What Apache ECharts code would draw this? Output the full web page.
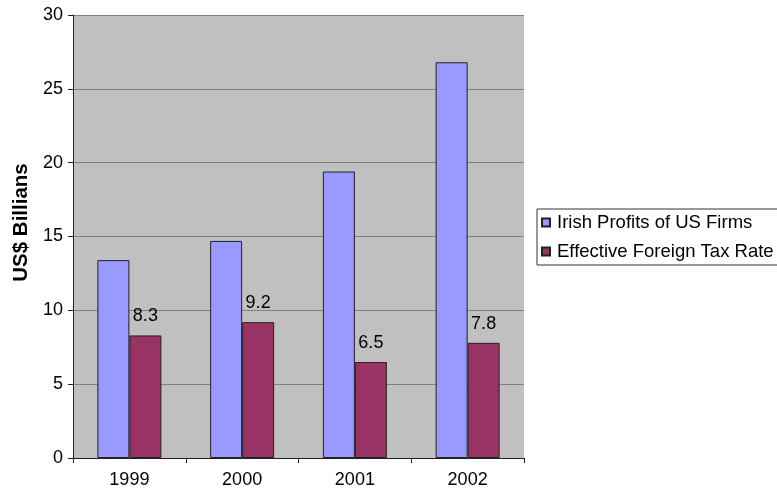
<!DOCTYPE html>
<html>
<head>
<meta charset="utf-8">
<script src="https://cdn.jsdelivr.net/npm/echarts@6/dist/echarts.min.js"></script>
<style>
  html, body { margin: 0; padding: 0; background: #fff; }
  #chart { width: 777px; height: 491px; }
</style>
</head>
<body>
<div id="chart"></div>
<script>
// data
const years = ["1999", "2000", "2001", "2002"];
const irishProfits = [13.4, 14.7, 19.4, 26.8];
const taxRate = [8.3, 9.2, 6.5, 7.8];
const yTicks = { min: 0, max: 30, interval: 5 };

const myChart = echarts.init(document.getElementById("chart"));
const font = "'Liberation Sans', Arial, Helvetica, sans-serif";

const option = {
  animation: false,
  textStyle: { fontFamily: font },
  grid: {
    left: 73,
    top: 15,
    right: 253,
    bottom: 33,
    show: true,
    backgroundColor: "#c0c0c0",
    borderWidth: 0
  },
  legend: {
    orient: "vertical",
    left: 537,
    top: 209,
    padding: [4, 12, 4, 4],
    itemWidth: 8,
    itemHeight: 8,
    itemGap: 10,
    icon: "rect",
    borderColor: "#333",
    borderWidth: 1,
    backgroundColor: "#fff",
    textStyle: { fontSize: 18.5, color: "#000", fontFamily: font, padding: [0, 0, 0, 2] },
    data: ["Irish Profits of US Firms", "Effective Foreign Tax Rate"]
  },
  xAxis: {
    type: "category",
    data: years,
    axisLine: { lineStyle: { color: "#222", width: 1 } },
    axisTick: { show: true, length: 5, lineStyle: { color: "#222" } },
    axisLabel: { fontSize: 18, color: "#000", margin: 13 },
    splitLine: { show: false }
  },
  yAxis: {
    type: "value",
    min: yTicks.min,
    max: yTicks.max,
    interval: yTicks.interval,
    name: "US$ Billians",
    nameLocation: "middle",
    nameGap: 35,
    nameTextStyle: {
      fontSize: 20.5,
      fontWeight: "bold",
      color: "#000",
      padding: [0, 0, 0, 28]
    },
    axisLine: { show: true, lineStyle: { color: "#222", width: 1 } },
    axisTick: { show: true, length: 5, lineStyle: { color: "#222" } },
    axisLabel: { fontSize: 18, color: "#000", margin: 10 },
    splitLine: { show: true, lineStyle: { color: "#808080", width: 1 } }
  },
  series: [
    {
      name: "Irish Profits of US Firms",
      type: "bar",
      data: irishProfits,
      barWidth: 32,
      barGap: "0%",
      itemStyle: { color: "#9999ff", borderColor: "#222", borderWidth: 1 }
    },
    {
      name: "Effective Foreign Tax Rate",
      type: "bar",
      data: taxRate,
      barWidth: 32,
      barGap: "0%",
      itemStyle: { color: "#993366", borderColor: "#222", borderWidth: 1 },
      label: {
        show: true,
        position: "top",
        distance: 10,
        fontSize: 18,
        color: "#000"
      }
    }
  ]
};

myChart.setOption(option);
</script>
</body>
</html>
